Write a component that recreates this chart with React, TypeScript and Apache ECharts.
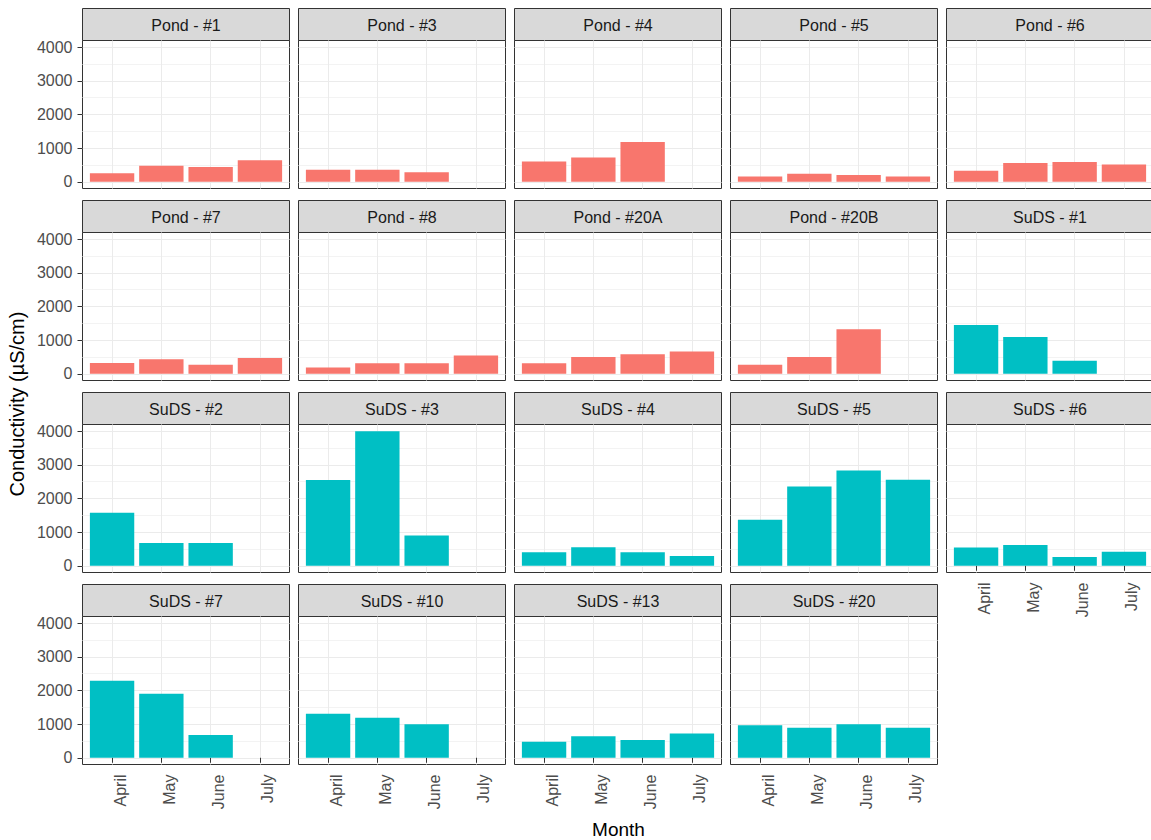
import React, { useEffect, useRef } from 'react';
import * as echarts from 'echarts';

// Sampling months (x categories) and y-axis breaks
const months = ['April', 'May', 'June', 'July'];
const monthPositions = [1, 2, 3, 4];
const yTicks = [0, 1000, 2000, 3000, 4000];
const yMinorTicks = [500, 1500, 2500, 3500];

// Conductivity (µS/cm) per site, April → July (null = not sampled)
const pond1 = [250, 480, 440, 640];
const pond3 = [360, 360, 280, null];
const pond4 = [600, 720, 1180, null];
const pond5 = [160, 240, 200, 160];
const pond6 = [330, 560, 590, 510];
const pond7 = [320, 430, 270, 470];
const pond8 = [190, 310, 310, 540];
const pond20A = [310, 500, 580, 660];
const pond20B = [270, 500, 1320, null];
const suds1 = [1450, 1090, 390, null];
const suds2 = [1580, 680, 680, null];
const suds3 = [2550, 4000, 900, null];
const suds4 = [400, 550, 400, 290];
const suds5 = [1370, 2360, 2830, 2560];
const suds6 = [540, 620, 260, 420];
const suds7 = [2290, 1900, 680, null];
const suds10 = [1310, 1190, 1000, null];
const suds13 = [480, 640, 530, 720];
const suds20 = [970, 890, 1000, 890];

// Facet order (wrapped into 5 columns)
const panelNames = [
  'Pond - #1', 'Pond - #3', 'Pond - #4', 'Pond - #5', 'Pond - #6',
  'Pond - #7', 'Pond - #8', 'Pond - #20A', 'Pond - #20B', 'SuDS - #1',
  'SuDS - #2', 'SuDS - #3', 'SuDS - #4', 'SuDS - #5', 'SuDS - #6',
  'SuDS - #7', 'SuDS - #10', 'SuDS - #13', 'SuDS - #20',
];
const panelValues = [
  pond1, pond3, pond4, pond5, pond6,
  pond7, pond8, pond20A, pond20B, suds1,
  suds2, suds3, suds4, suds5, suds6,
  suds7, suds10, suds13, suds20,
];

const groupColors: Record<string, string> = { Pond: '#F8766D', SuDS: '#00BFC4' };

const FONT = '"Liberation Sans", Arial, Helvetica, sans-serif';
const COLS = 5;
const PANEL_W = 207;
const PANEL_H = 148;
const STRIP_H = 32;
const COL_STEP = 216;
const ROW_STEP = 192;
const LEFT0 = 82.5;
const TOP0 = 8.5;

function buildOption() {
  const grids: any[] = [];
  const xAxes: any[] = [];
  const yAxes: any[] = [];
  const series: any[] = [];
  const graphics: any[] = [];

  panelNames.forEach((name, i) => {
    const r = Math.floor(i / COLS);
    const c = i % COLS;
    const left = LEFT0 + c * COL_STEP;
    const stripTop = TOP0 + r * ROW_STEP;
    const top = stripTop + STRIP_H;
    const showY = c === 0;
    const showX = i + COLS >= panelNames.length;
    const group = name.split(' ')[0];

    grids.push({
      left,
      top,
      width: PANEL_W,
      height: PANEL_H,
      show: true,
      backgroundColor: '#FFFFFF',
      borderColor: '#333333',
      borderWidth: 1,
      containLabel: false,
      outerBoundsMode: 'none',
    });

    xAxes.push({
      type: 'value',
      gridIndex: i,
      min: 0.4,
      max: 4.6,
      axisLine: { show: false },
      axisTick: {
        show: showX,
        customValues: monthPositions,
        length: 5,
        lineStyle: { color: '#333333', width: 1 },
      },
      axisLabel: {
        show: showX,
        customValues: monthPositions,
        formatter: (v: number) => months[Math.round(v) - 1] ?? '',
        rotate: 90,
        align: 'right',
        verticalAlign: 'top',
        margin: 10,
        color: '#4D4D4D',
        fontSize: 16,
        fontFamily: FONT,
      },
      splitLine: { show: true, lineStyle: { color: '#EBEBEB', width: 1 } },
    });

    // major breaks: ticks, labels and grid lines
    yAxes.push({
      type: 'value',
      gridIndex: i,
      min: -200,
      max: 4200,
      position: 'left',
      axisLine: { show: false },
      axisTick: {
        show: showY,
        customValues: yTicks,
        length: 5,
        lineStyle: { color: '#333333', width: 1 },
      },
      axisLabel: {
        show: showY,
        customValues: yTicks,
        formatter: (v: number) => String(v),
        margin: 10,
        color: '#4D4D4D',
        fontSize: 16,
        fontFamily: FONT,
      },
      splitLine: { show: true, lineStyle: { color: '#EBEBEB', width: 1 } },
    });
    // minor breaks: grid lines only
    yAxes.push({
      type: 'value',
      gridIndex: i,
      min: -200,
      max: 4200,
      position: 'left',
      axisLine: { show: false },
      axisTick: { show: false, customValues: yMinorTicks },
      axisLabel: { show: false, customValues: yMinorTicks },
      splitLine: { show: true, lineStyle: { color: '#F3F3F3', width: 1 } },
    });

    const vals = panelValues[i];
    const data: [number, number][] = [];
    vals.forEach((v, k) => {
      if (v != null) data.push([monthPositions[k], v]);
    });
    series.push({
      type: 'bar',
      name,
      xAxisIndex: i,
      yAxisIndex: 2 * i,
      data,
      barWidth: '90%',
      itemStyle: { color: groupColors[group] },
      silent: true,
    });

    // facet strip
    graphics.push({
      type: 'rect',
      shape: { x: left, y: stripTop, width: PANEL_W, height: STRIP_H },
      style: { fill: '#D9D9D9', stroke: '#333333', lineWidth: 1 },
      silent: true,
    });
    graphics.push({
      type: 'text',
      x: left + PANEL_W / 2,
      y: stripTop + STRIP_H / 2 + 1,
      style: {
        text: name,
        fill: '#1A1A1A',
        fontSize: 16,
        fontFamily: FONT,
        align: 'center',
        verticalAlign: 'middle',
      },
      silent: true,
    });
  });

  graphics.push({
    type: 'text',
    x: 618.5,
    y: 829,
    style: {
      text: 'Month',
      fill: '#000000',
      fontSize: 19,
      fontFamily: FONT,
      align: 'center',
      verticalAlign: 'middle',
    },
    silent: true,
  });
  graphics.push({
    type: 'text',
    x: 17,
    y: 404,
    rotation: Math.PI / 2,
    style: {
      text: 'Conductivity (µS/cm)',
      fill: '#000000',
      fontSize: 20,
      fontFamily: FONT,
      align: 'center',
      verticalAlign: 'middle',
    },
    silent: true,
  });

  return {
    animation: false,
    backgroundColor: '#FFFFFF',
    grid: grids,
    xAxis: xAxes,
    yAxis: yAxes,
    series,
    graphic: graphics,
  };
}

export default function App() {
  const ref = useRef<HTMLDivElement>(null);

  useEffect(() => {
    if (!ref.current) return;
    const chart = echarts.init(ref.current, undefined, { renderer: 'svg' });
    chart.setOption(buildOption() as any);
    return () => chart.dispose();
  }, []);

  return (
    <div
      ref={ref}
      style={{ position: 'absolute', left: 0, top: 0, width: 1151, height: 840, background: '#fff' }}
    />
  );
}
